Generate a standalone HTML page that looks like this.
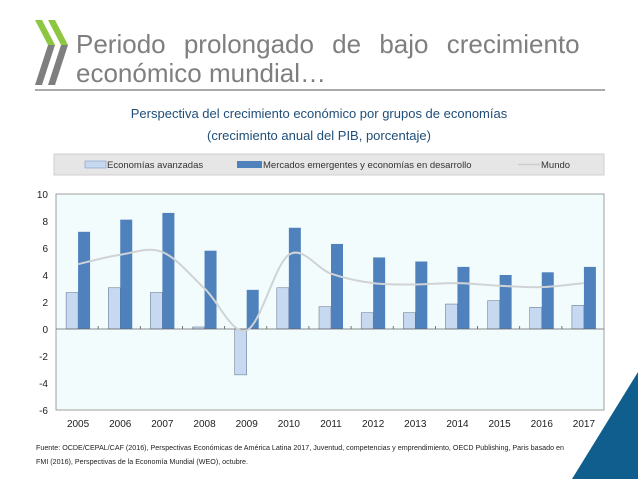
<!DOCTYPE html>
<html><head><meta charset="utf-8"><style>
html,body{margin:0;padding:0;background:#fff;}
svg{display:block;font-family:"Liberation Sans",sans-serif;}
</style></head><body>
<svg width="638" height="479" viewBox="0 0 638 479">
  <g>
    <polygon points="35,20 42,20 55,45 48,45" fill="#8dc63f"/>
    <polygon points="48,20 55,20 68,45 61,45" fill="#8dc63f"/>
    <polygon points="48,45 55,45 42,85 35,85" fill="#7f7f7f"/>
    <polygon points="61,45 68,45 55,85 48,85" fill="#7f7f7f"/>
  </g>
  <text x="76" y="53" font-size="26" fill="#7f7f7f" word-spacing="11">Periodo prolongado de bajo crecimiento</text>
  <text x="76" y="82" font-size="26" fill="#7f7f7f">económico mundial…</text>
  <line x1="35" y1="90" x2="605" y2="90" stroke="#555" stroke-width="1"/>
  <text x="319" y="118" font-size="13" fill="#1f4e79" text-anchor="middle">Perspectiva del crecimiento económico por grupos de economías</text>
  <text x="319" y="140" font-size="13" fill="#1f4e79" text-anchor="middle">(crecimiento anual del PIB, porcentaje)</text>
  <g>
    <rect x="54" y="154" width="550" height="21" fill="#e6e6e6" stroke="#cfcfcf"/>
    <rect x="85" y="161" width="21" height="7" fill="#c6d9f1" stroke="#6c8ebf" stroke-width="0.5"/>
    <text x="107" y="168" font-size="9.5" fill="#333">Economías avanzadas</text>
    <rect x="237" y="161" width="25" height="7" fill="#4f81bd"/>
    <text x="263" y="168" font-size="9.5" fill="#333">Mercados emergentes y economías en desarrollo</text>
    <line x1="518" y1="164.5" x2="540" y2="164.5" stroke="#cccccc" stroke-width="1.5"/>
    <text x="541" y="168" font-size="9.5" fill="#333">Mundo</text>
  </g>
  <rect x="56" y="194" width="548" height="216" fill="#f3fcfd" stroke="#888" stroke-width="0.8"/>
  <g id="chart"></g>
  <polygon points="638,372 638,479 572,479" fill="#0f5e8e"/>
  <text x="36" y="450" font-size="7" fill="#222" textLength="528" lengthAdjust="spacingAndGlyphs">Fuente:  OCDE/CEPAL/CAF (2016), Perspectivas Económicas de América Latina 2017, Juventud, competencias y emprendimiento, OECD Publishing, Paris basado en</text>
  <text x="36" y="464" font-size="7" fill="#222" textLength="212" lengthAdjust="spacingAndGlyphs">FMI (2016), Perspectivas de la Economía Mundial (WEO), octubre.</text>
</svg>
<script>
const years = ["2005","2006","2007","2008","2009","2010","2011","2012","2013","2014","2015","2016","2017"];
const advanced = [2.7,3.05,2.7,0.15,-3.4,3.05,1.65,1.2,1.2,1.85,2.1,1.6,1.75];
const emerging = [7.2,8.1,8.6,5.8,2.9,7.5,6.3,5.3,5.0,4.6,4.0,4.2,4.6];
const world = [4.8,5.5,5.7,3.0,-0.1,5.5,4.1,3.4,3.3,3.4,3.2,3.1,3.4];
const yTicks = [10,8,6,4,2,0,-2,-4,-6];

const NS="http://www.w3.org/2000/svg";
const g=document.getElementById('chart');
const L=56,R=604,T=194,B=410,yMax=10,yMin=-6;
const cw=(R-L)/years.length;
const y=v=>T+(yMax-v)/(yMax-yMin)*(B-T);
const xc=i=>L+cw*(i+0.5)+1;
function mk(tag,attrs){const e=document.createElementNS(NS,tag);for(const k in attrs)e.setAttribute(k,attrs[k]);g.appendChild(e);return e;}

yTicks.forEach(v=>{
  const t=mk('text',{x:L-8,y:y(v)+4,'font-size':10,fill:'#222','text-anchor':'end'});
  t.textContent=v;
  
  
});
const bw=12;
years.forEach((yr,i)=>{
  const a=advanced[i], e=emerging[i];
  const r1=mk('rect',{x:xc(i)-bw,y:Math.min(y(a),y(0)),width:bw,height:Math.abs(y(a)-y(0)),fill:'#c6d9f1',stroke:'#3a4a66','stroke-width':0.4});
  
  
  const r2=mk('rect',{x:xc(i),y:Math.min(y(e),y(0)),width:bw,height:Math.abs(y(e)-y(0)),fill:'#4f81bd'});
  
  
  const t=mk('text',{x:xc(i),y:427,'font-size':10,fill:'#222','text-anchor':'middle'});
  t.textContent=yr;
  
  
  if(i>0){const tk=mk('line',{x1:L+cw*i,x2:L+cw*i,y1:y(0)-3,y2:y(0),stroke:'#555','stroke-width':0.8});
  
  }
});
const zl=mk('line',{x1:L,x2:R,y1:y(0),y2:y(0),stroke:'#666','stroke-width':0.8});


const pts=world.map((v,i)=>[xc(i),y(v)]);
let d='M'+pts[0][0]+','+pts[0][1];
for(let i=0;i<pts.length-1;i++){
  const p0=pts[Math.max(0,i-1)],p1=pts[i],p2=pts[i+1],p3=pts[Math.min(pts.length-1,i+2)];
  const c1=[p1[0]+(p2[0]-p0[0])/6,p1[1]+(p2[1]-p0[1])/6];
  const c2=[p2[0]-(p3[0]-p1[0])/6,p2[1]-(p3[1]-p1[1])/6];
  d+=` C${c1[0]},${c1[1]} ${c2[0]},${c2[1]} ${p2[0]},${p2[1]}`;
}
const ln=mk('path',{d:d,fill:'none',stroke:'#d0d3d6','stroke-width':2});


</script>
</body></html>
